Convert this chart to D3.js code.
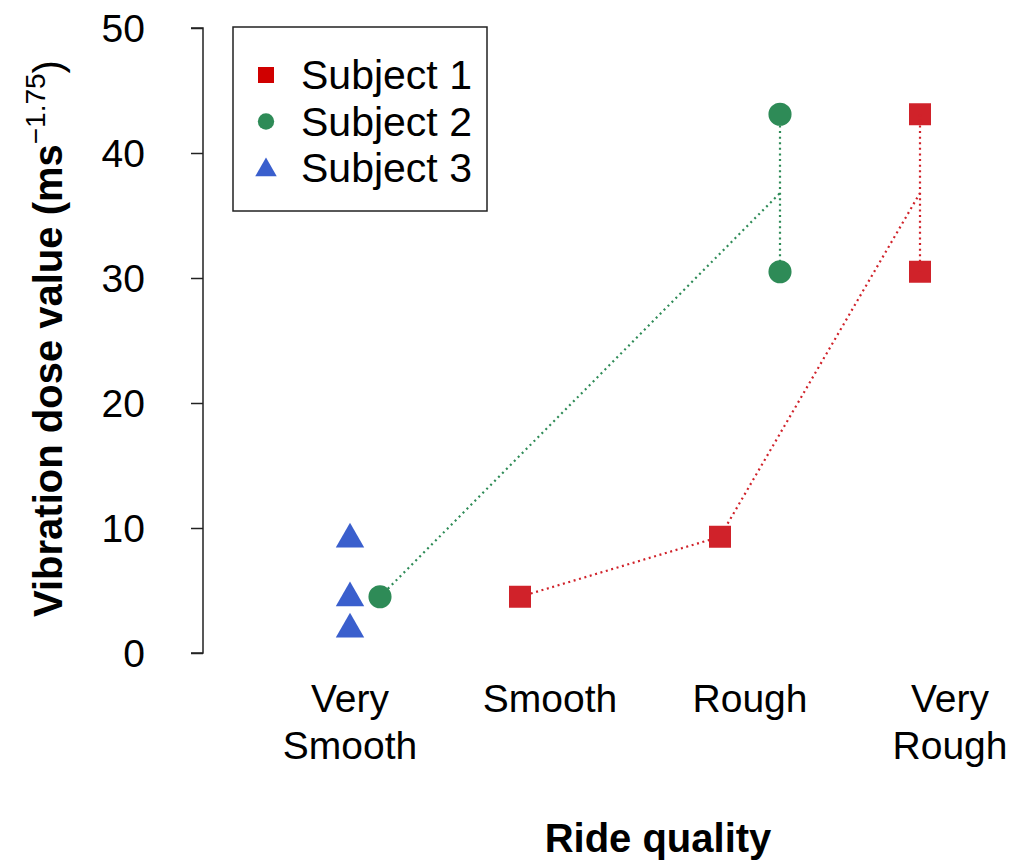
<!DOCTYPE html>
<html>
<head>
<meta charset="utf-8">
<script src="https://cdn.jsdelivr.net/npm/d3@7"></script>
<style>
  html, body { margin: 0; padding: 0; background: #fff; }
  svg { display: block; }
  text { font-family: "Liberation Sans", Arial, Helvetica, sans-serif; fill: #000; }
</style>
</head>
<body>
<svg id="chart" width="1013" height="862"></svg>
<script>
// ---------- data ----------
const categories = [["Very", "Smooth"], ["Smooth"], ["Rough"], ["Very", "Rough"]];
const yTicks = [0, 10, 20, 30, 40, 50];
const seriesNames = ["Subject 1", "Subject 2", "Subject 3"];
const seriesColors = ["#d0222a", "#2e8b57", "#3a5fcd"];
const legendColors = ["#d00000", "#2e8b57", "#3a5fcd"];
const seriesOffsets = [-0.15, 0.15, 0];
// category index (1-based) and value for each point
const subject1Cats = [2, 3, 4, 4];
const subject1Vals = [4.5, 9.3, 43.1, 30.5];
const subject2Cats = [1, 3, 3];
const subject2Vals = [4.5, 43.1, 30.5];
const subject3Cats = [1, 1, 1];
const subject3Vals = [9.1, 4.4, 1.9];
const connectSeries = [true, true, false];

const series = [
  { cats: subject1Cats, vals: subject1Vals },
  { cats: subject2Cats, vals: subject2Vals },
  { cats: subject3Cats, vals: subject3Vals }
];

// ---------- scales ----------
const svg = d3.select("#chart");
const x = d3.scaleLinear().domain([1, 4]).range([350, 950]);
const y = d3.scaleLinear().domain([0, 50]).range([653, 28]);

const symbols = [d3.symbolSquare, d3.symbolCircle, d3.symbolTriangle];
const symbolSizes = [484, 420, 350];
const legendSizes = [256, 210, 200];

// ---------- y axis ----------
const yAxis = d3.axisLeft(y).tickValues(yTicks).tickSize(12).tickPadding(46).tickSizeOuter(0);
const gy = svg.append("g").attr("transform", "translate(203,0)").call(yAxis);
gy.select(".domain").attr("stroke", "#222").attr("stroke-width", 1.5)
  .attr("d", `M-12,${y(50)}H0V${y(0)}H-12`);
gy.selectAll(".tick line").attr("stroke", "#222").attr("stroke-width", 1.5);
gy.selectAll(".tick text")
  .style("font-family", '"Liberation Sans", Arial, sans-serif')
  .style("font-size", "39px").attr("fill", "#000").attr("dy", "0.35em");

// ---------- x category labels ----------
categories.forEach((lines, i) => {
  const t = svg.append("text").attr("text-anchor", "middle")
    .attr("x", x(i + 1)).attr("y", 712).style("font-size", "39px");
  lines.forEach((ln, j) => {
    t.append("tspan").attr("x", x(i + 1)).attr("dy", j === 0 ? 0 : 47).text(ln);
  });
});

// ---------- axis titles ----------
svg.append("text").attr("text-anchor", "middle").attr("x", 658).attr("y", 852)
  .style("font-size", "40px").style("font-weight", "bold").text("Ride quality");

const yt = svg.append("text").attr("text-anchor", "middle")
  .attr("transform", `translate(62,${(y(0) + y(50)) / 2 - 2}) rotate(-90)`)
  .style("font-size", "40px").style("font-weight", "bold");
yt.append("tspan").text("Vibration dose value (ms");
yt.append("tspan").attr("dy", -17).style("font-size", "28px").style("font-weight", "normal").text("\u22121.75");
yt.append("tspan").attr("dy", 17).style("font-weight", "normal").text(")");

// ---------- lines ----------
const dash = "2,3.6";
function seriesPath(s, k) {
  const cats = Array.from(new Set(s.cats)).sort((a, b) => a - b);
  return cats.map(c => {
    const vs = s.vals.filter((v, i) => s.cats[i] === c);
    return [x(c + seriesOffsets[k]), y(d3.mean(vs))];
  });
}
function ranges(s) {
  const cats = Array.from(new Set(s.cats));
  return cats.map(c => {
    const vs = s.vals.filter((v, i) => s.cats[i] === c);
    return { c, lo: d3.min(vs), hi: d3.max(vs), n: vs.length };
  }).filter(r => r.n > 1);
}
const line = d3.line();
const lineLayer = svg.append("g");
const pointLayer = svg.append("g");
const topLayer = svg.append("g");

series.forEach((s, k) => {
  if (!connectSeries[k]) return;
  lineLayer.append("path").attr("d", line(seriesPath(s, k)))
    .attr("fill", "none").attr("stroke", seriesColors[k]).attr("stroke-width", 2.2)
    .attr("stroke-dasharray", dash);
  const layer = k === 0 ? topLayer : lineLayer;
  ranges(s).forEach(r => {
    layer.append("line")
      .attr("x1", x(r.c + seriesOffsets[k])).attr("x2", x(r.c + seriesOffsets[k]))
      .attr("y1", y(r.hi)).attr("y2", y(r.lo))
      .attr("stroke", seriesColors[k]).attr("stroke-width", 2.2)
      .attr("stroke-dasharray", dash);
  });
});

// ---------- points ----------
series.forEach((s, k) => {
  const sym = d3.symbol().type(symbols[k]).size(symbolSizes[k]);
  s.vals.forEach((v, i) => {
    pointLayer.append("path").attr("d", sym())
      .attr("transform", `translate(${x(s.cats[i] + seriesOffsets[k])},${y(v)})`)
      .attr("fill", seriesColors[k]);
  });
});

// ---------- legend ----------
const lg = svg.append("g");
lg.append("rect").attr("x", 233).attr("y", 27).attr("width", 254).attr("height", 184)
  .attr("fill", "#fff").attr("stroke", "#222").attr("stroke-width", 1.5);
seriesNames.forEach((name, k) => {
  const cy = 75 + k * 46.5;
  const sym = d3.symbol().type(symbols[k]).size(legendSizes[k]);
  lg.append("path").attr("d", sym()).attr("transform", `translate(266,${cy + (k === 2 ? 2 : 0)})`)
    .attr("fill", legendColors[k]);
  lg.append("text").attr("x", 301).attr("y", cy).attr("dy", "0.35em")
    .style("font-size", "41px").text(name);
});
</script>
</body>
</html>
